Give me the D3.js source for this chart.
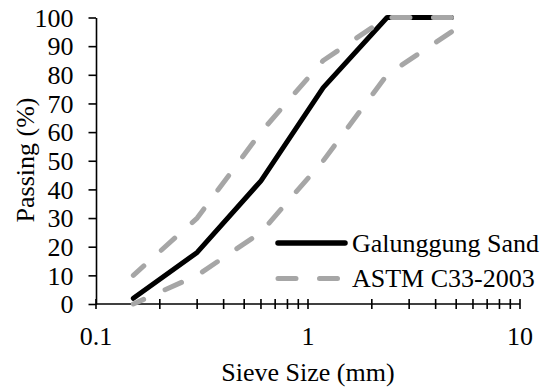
<!DOCTYPE html>
<html>
<head>
<meta charset="utf-8">
<script src="https://cdn.jsdelivr.net/npm/d3@7"></script>
<style>
  html, body { margin: 0; padding: 0; background: #fff; }
  svg { display: block; }
</style>
</head>
<body>
<svg id="chart" width="551" height="388"></svg>
<script>
// Data (ordered from coarse to fine sieve, as drawn)
const sieveSizes = [4.75, 2.36, 1.18, 0.6, 0.3, 0.15];
const galunggungSand = [100, 100, 75.5, 43, 18, 2];
const astmUpper = [100, 100, 85, 60, 30, 10];
const astmLower = [95, 80, 50, 25, 10, 0];
const yTicks = [0, 10, 20, 30, 40, 50, 60, 70, 80, 90, 100];
const xTickLabels = [0.1, 1, 10];
const seriesNames = ["Galunggung Sand", "ASTM C33-2003"];

(function () {
const FONT = "'Liberation Serif', 'Times New Roman', serif";
const svg = d3.select("#chart");
const mLeft = 96, mRight = 520, mTop = 17.5, mBottom = 304;

const x = d3.scaleLog().domain([0.1, 10]).range([mLeft, mRight]);
const y = d3.scaleLinear().domain([0, 100]).range([mBottom, mTop]);

const gray = "#a6a6a6";

// Y axis
const yAxis = d3.axisLeft(y).tickValues(yTicks).tickSize(7.5).tickPadding(15).tickSizeOuter(0);
const gy = svg.append("g").attr("transform", `translate(${mLeft},0)`).call(yAxis);
gy.attr("font-family", null).attr("font-size", null);
gy.select(".domain").attr("stroke", "#000").attr("stroke-width", 1.6);
gy.selectAll(".tick line").attr("stroke", "#000").attr("stroke-width", 1.6);
gy.selectAll(".tick text").style("font-family", FONT).style("font-size", "26px")
  .attr("fill", "#000").attr("dy", "0.34em");

// X axis: log ticks crossing the axis
const logTicks = [];
for (let d = 0.1; d < 10; d *= 10) {
  for (let k = 1; k <= 10; k++) logTicks.push(+(d * k).toPrecision(3));
}
const uniqTicks = Array.from(new Set(logTicks));
const gx = svg.append("g");
gx.append("line").attr("x1", x(0.1)).attr("x2", x(10)).attr("y1", mBottom).attr("y2", mBottom)
  .attr("stroke", "#000").attr("stroke-width", 1.6);
gx.selectAll("line.t").data(uniqTicks).enter().append("line").attr("class", "t")
  .attr("x1", d => x(d)).attr("x2", d => x(d))
  .attr("y1", mBottom - 5).attr("y2", mBottom + 5)
  .attr("stroke", "#000").attr("stroke-width", 1.6);
gx.selectAll("text").data(xTickLabels).enter().append("text")
  .attr("x", d => x(d)).attr("y", 345)
  .attr("text-anchor", "middle").style("font-family", FONT).style("font-size", "26px")
  .text(d => String(d));

// Lines
const line = d3.line().x(d => x(d[0])).y(d => y(d[1]));
svg.append("path").datum(sieveSizes.map((s, i) => [s, galunggungSand[i]]))
  .attr("d", line).attr("fill", "none").attr("stroke", "#000").attr("stroke-width", 5)
  .attr("stroke-linejoin", "round").attr("stroke-linecap", "round");
[astmUpper, astmLower].forEach(vals => {
  svg.append("path").datum(sieveSizes.map((s, i) => [s, vals[i]]))
    .attr("d", line).attr("fill", "none").attr("stroke", gray).attr("stroke-width", 5)
    .attr("stroke-dasharray", "18,23.5").attr("stroke-linecap", "round").attr("stroke-linejoin", "round");
});

// Legend
const lg = svg.append("g");
lg.append("line").attr("x1", 278).attr("x2", 345).attr("y1", 243).attr("y2", 243)
  .attr("stroke", "#000").attr("stroke-width", 5.5).attr("stroke-linecap", "round");
lg.append("line").attr("x1", 278).attr("x2", 345).attr("y1", 278.5).attr("y2", 278.5)
  .attr("stroke", gray).attr("stroke-width", 5).attr("stroke-linecap", "round").attr("stroke-dasharray", "18,23.5");
lg.append("text").attr("x", 352).attr("y", 252).style("font-family", FONT).style("font-size", "26px").text(seriesNames[0]);
lg.append("text").attr("x", 352).attr("y", 287).style("font-family", FONT).style("font-size", "26px").text(seriesNames[1]);

// Axis titles
svg.append("text").attr("x", 308).attr("y", 380.5).attr("text-anchor", "middle")
  .style("font-family", FONT).style("font-size", "26px").text("Sieve Size (mm)");
svg.append("text").attr("transform", `translate(33.5,160) rotate(-90)`).attr("text-anchor", "middle")
  .style("font-family", FONT).style("font-size", "26px").text("Passing (%)");
})();
</script>
</body>
</html>
